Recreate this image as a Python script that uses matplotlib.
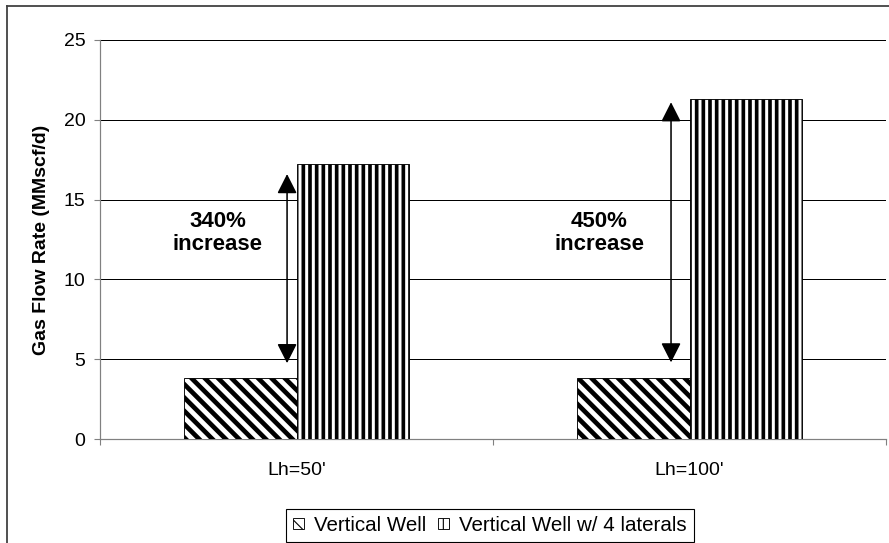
import matplotlib
matplotlib.use("Agg")
import matplotlib.pyplot as plt
from matplotlib.lines import Line2D
from matplotlib.patches import Patch
import numpy as np

# well cases and gas rates (MMscf/d)
wells = ["Lh=50'", "Lh=100'"]
vertical = [3.85, 3.85]
laterals = [17.2, 21.3]

# increase annotations: arrow x, arrow ends, text position
gains = ["340%\nincrease", "450%\nincrease"]
arrow_x = [-0.024, 0.953]
arrow_lo = [4.75, 4.8]
arrow_hi = [16.6, 21.1]
gain_x = [-0.2, 0.77]
gain_y = [12.9, 12.9]

plt.rcParams['font.family'] = ['Liberation Sans', 'DejaVu Sans']
plt.rcParams['hatch.color'] = 'black'

per_patch_hatch = hasattr(Patch, 'set_hatch_linewidth')
if not per_patch_hatch:
    plt.rcParams['hatch.linewidth'] = 3.3

DPI = 80
W, H = 889, 543
fig = plt.figure(figsize=(W / DPI, H / DPI), dpi=DPI)
ax = fig.add_axes([100 / W, 1 - 439 / H, 786 / W, 399 / H])

x = np.arange(len(wells))
bw = 0.285

def hatched_bars(xpos, vals, hatch, hlw, label):
    bars = ax.bar(xpos, vals, bw, facecolor='white', edgecolor='black',
                  linewidth=0.8, hatch=hatch, label=label, zorder=3)
    if per_patch_hatch:
        for b in bars:
            b.set_hatch_linewidth(hlw)
    return bars

b1 = hatched_bars(x - bw / 2, vertical, '\\\\', 4.2, 'Vertical Well')
b2 = hatched_bars(x + bw / 2, laterals, '||', 3.3, 'Vertical Well w/ 4 laterals')

for xa, lo, hi in zip(arrow_x, arrow_lo, arrow_hi):
    ax.annotate('', xy=(xa, hi), xytext=(xa, lo),
                arrowprops=dict(arrowstyle='<|-|>,head_length=0.75,head_width=0.38',
                                mutation_scale=20, color='black', lw=1.4,
                                shrinkA=0, shrinkB=0), zorder=5)

for t, tx, ty in zip(gains, gain_x, gain_y):
    ax.text(tx, ty, t, ha='center', va='center', fontsize=20,
            fontweight='bold', linespacing=1.12, zorder=5)

ax.set_xlim(-0.5, 1.5)
ax.set_ylim(0, 25)
ax.set_yticks(np.arange(0, 26, 5))
ax.yaxis.grid(True, color='black', linewidth=0.9, zorder=0)
ax.set_axisbelow(True)

ax.set_xticks(x)
ax.set_xticklabels(wells)
ax.set_xticks([-0.5, 0.5, 1.5], minor=True)
ax.tick_params(axis='x', which='major', length=0, pad=21, labelsize=17.5)
ax.tick_params(axis='x', which='minor', length=5, width=1, color='#808080')
ax.tick_params(axis='y', length=5, width=1, color='#808080', pad=8, labelsize=17.5)

for s in ['top', 'right']:
    ax.spines[s].set_visible(False)
for s in ['left', 'bottom']:
    ax.spines[s].set_color('#808080')
    ax.spines[s].set_linewidth(1.1)

ax.set_ylabel('Gas Flow Rate (MMscf/d)', fontsize=17.5, fontweight='bold', labelpad=12)

leg = ax.legend(loc='lower center', bbox_to_anchor=(490 / W, 1 / H),
                bbox_transform=fig.transFigure, ncol=2, fontsize=18.5,
                frameon=True, fancybox=False, framealpha=1, edgecolor='black',
                handlelength=0.5, handleheight=0.5, handletextpad=0.5,
                columnspacing=0.6, borderpad=0.35, borderaxespad=0)
leg.get_frame().set_linewidth(1.0)

# page border on the left and top
fig.add_artist(Line2D([7 / W, 7 / W], [0, 1 - 6 / H], transform=fig.transFigure,
                      color='#404040', lw=1.6))
fig.add_artist(Line2D([7 / W, 1], [1 - 6 / H, 1 - 6 / H], transform=fig.transFigure,
                      color='#404040', lw=1.6))

fig.savefig('out.png', dpi=DPI)
